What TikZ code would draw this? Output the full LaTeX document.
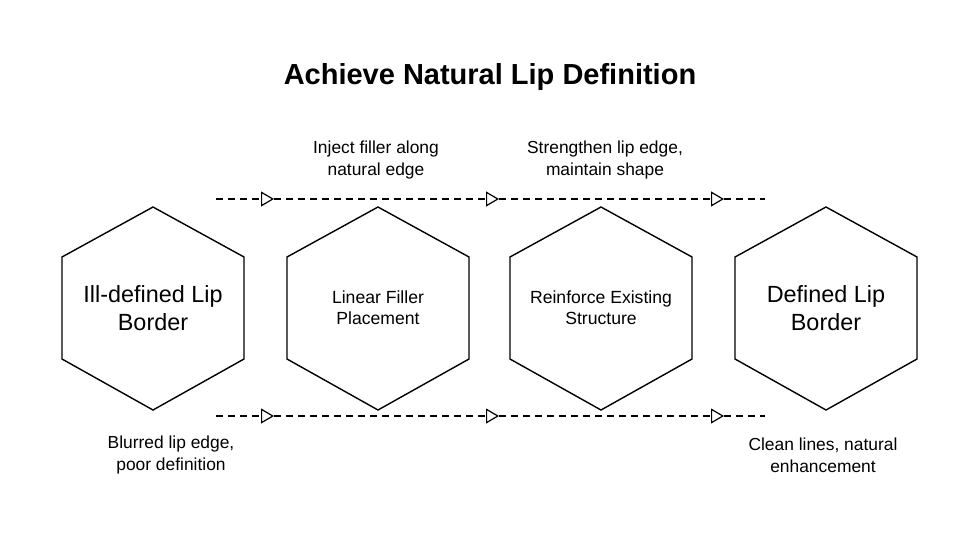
\documentclass[tikz,border=0pt]{standalone}
\usepackage{fontspec}
\setmainfont{Liberation Sans}
\usetikzlibrary{arrows.meta}
\begin{document}
\begin{tikzpicture}[x=1pt,y=-1pt,
  hexa/.style={draw=black,line width=1.4pt},
  flow/.style={draw=black,line width=1.2pt,dash pattern=on 7pt off 5pt},
  tip/.style={-{Triangle[open,length=13pt,width=15pt,line width=1.2pt]}},
  lab/.style={font=\fontsize{17.4}{22}\selectfont,align=center},
  big/.style={font=\fontsize{23.4}{28}\selectfont,align=center},
  mid/.style={font=\fontsize{17.6}{21}\selectfont,align=center}]
\useasboundingbox (0,0) rectangle (980,547);
\fill[white] (0,0) rectangle (980,547);
\node[font=\bfseries\fontsize{29}{32}\selectfont] (title) at (490,77) {Achieve Natural Lip Definition};
\foreach \n/\cx in {h1/153,h2/378,h3/601,h4/826}{
  \draw[hexa] (\cx,207) -- (\cx+91,257) -- (\cx+91,359) -- (\cx,410) -- (\cx-91,359) -- (\cx-91,257) -- cycle;
  \coordinate (\n) at (\cx,308);
}
\node[big] (t1) at (h1) {Ill-defined Lip\\Border};
\node[mid] (t2) at (h2) {Linear Filler\\Placement};
\node[mid] (t3) at (h3) {Reinforce Existing\\Structure};
\node[big] (t4) at (h4) {Defined Lip\\Border};
\foreach \y/\s in {199/a,416/b}{
  \coordinate (\s0) at (216,\y);
  \coordinate (\s1) at (274,\y);
  \coordinate (\s2) at (499,\y);
  \coordinate (\s3) at (724,\y);
  \coordinate (\s4) at (765,\y);
  \draw[flow,tip] (\s0) -- (\s1);
  \draw[flow,tip] (\s1) -- (\s2);
  \draw[flow,tip] (\s2) -- (\s3);
  \draw[flow] (\s3) -- (\s4);
}
\node[lab] (l1) at (376,160) {Inject filler along\\natural edge};
\node[lab] (l2) at (605,160) {Strengthen lip edge,\\maintain shape};
\node[lab] (l3) at (171,455) {Blurred lip edge,\\poor definition};
\node[lab] (l4) at (823,455) {Clean lines, natural\\enhancement};
\end{tikzpicture}
\end{document}
